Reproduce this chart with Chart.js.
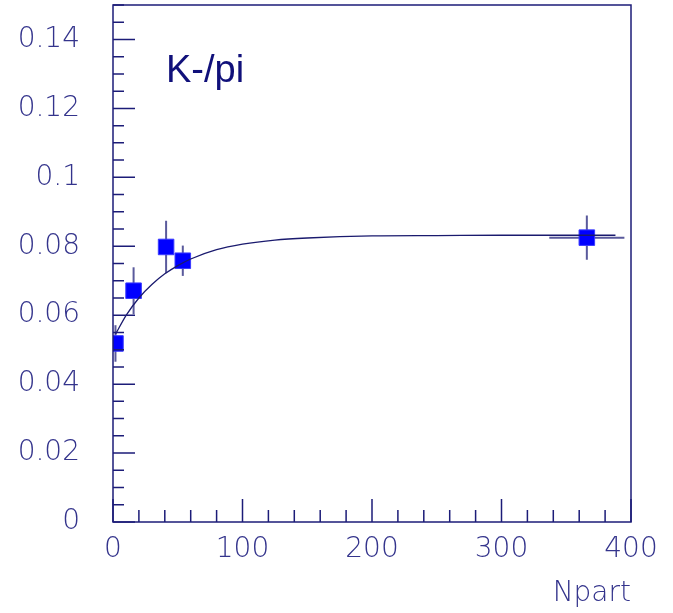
<!DOCTYPE html>
<html>
<head>
<meta charset="utf-8">
<script src="https://cdn.jsdelivr.net/npm/chart.js@4.4.1/dist/chart.umd.min.js"></script>
<style>
  html, body { margin: 0; padding: 0; background: #fff; }
  #wrap { width: 673px; height: 613px; }
</style>
</head>
<body>
<div id="wrap"><canvas id="canvas" width="673" height="613"></canvas></div>
<script>
// measured points K-/pi vs Npart
var npart = [1.9, 15.9, 41.0, 53.9, 365.9];
var ratio = [0.0518, 0.0671, 0.0798, 0.0758, 0.0825];
var ratioErr = [0.0053, 0.0068, 0.0076, 0.0044, 0.0064];
var npartErr = [0, 0, 0, 0, 29];

// fit curve
var fitX = [2, 10, 20, 30, 40, 50, 60, 80, 100, 125, 150, 200, 250, 300, 388];
var fitY = [0.0545, 0.0599, 0.0650, 0.0689, 0.0720, 0.0744, 0.0763, 0.0790, 0.0806, 0.0818, 0.0824, 0.0830, 0.0831, 0.0832, 0.0832];

var xTicks = [0, 100, 200, 300, 400];
var xLabels = ['0', '100', '200', '300', '400'];
var yTicks = [0, 0.02, 0.04, 0.06, 0.08, 0.1, 0.12, 0.14];
var yLabels = ['0', '0.02', '0.04', '0.06', '0.08', '0.1', '0.12', '0.14'];

var axisColor = '#1c1c78';
var labelColor = '#34348c';
var tickFont = { family: 'DejaVu Sans', size: 28, weight: 200 };

var errorBars = {
  id: 'errorBars',
  beforeDatasetsDraw: function(chart) {
    var ctx = chart.ctx, xs = chart.scales.x, ys = chart.scales.y;
    ctx.save();
    ctx.strokeStyle = '#5a5a9c';
    ctx.lineWidth = 2;
    for (var i = 0; i < npart.length; i++) {
      var px = xs.getPixelForValue(npart[i]);
      var py = ys.getPixelForValue(ratio[i]);
      ctx.beginPath();
      ctx.moveTo(px, ys.getPixelForValue(ratio[i] - ratioErr[i]));
      ctx.lineTo(px, ys.getPixelForValue(ratio[i] + ratioErr[i]));
      if (npartErr[i] > 0) {
        ctx.moveTo(xs.getPixelForValue(npart[i] - npartErr[i]), py);
        ctx.lineTo(xs.getPixelForValue(npart[i] + npartErr[i]), py);
      }
      ctx.stroke();
    }
    ctx.restore();
  }
};

var frame = {
  id: 'frame',
  afterDraw: function(chart) {
    var ctx = chart.ctx, a = chart.chartArea, xs = chart.scales.x, ys = chart.scales.y;
    ctx.save();
    ctx.strokeStyle = axisColor;
    ctx.lineWidth = 1.5;
    ctx.strokeRect(a.left, a.top, a.right - a.left, a.bottom - a.top);
    ctx.beginPath();
    // ticks along the bottom, every 20, long every 100
    for (var v = 0; v <= 400; v += 20) {
      var px = xs.getPixelForValue(v);
      var len = (v % 100 === 0) ? 23 : 12;
      ctx.moveTo(px, a.bottom);
      ctx.lineTo(px, a.bottom - len);
    }
    // ticks along the left, every 0.005, long every 0.02
    for (var k = 0; k <= 30; k++) {
      var py = ys.getPixelForValue(k * 0.005);
      var l = (k % 4 === 0) ? 22 : 11;
      ctx.moveTo(a.left, py);
      ctx.lineTo(a.left + l, py);
    }
    ctx.stroke();
    // label in the plot
    ctx.fillStyle = '#10107a';
    ctx.font = '38px "Liberation Sans", Arial, sans-serif';
    ctx.textBaseline = 'alphabetic';
    ctx.fillText('K-/pi', 166, 82);
    ctx.restore();
  }
};

var ctx = document.getElementById('canvas');
var myChart = new Chart(ctx, {
  type: 'scatter',
  data: {
    datasets: [
      {
        type: 'line',
        label: 'fit',
        data: fitX.map(function(x, i) { return { x: x, y: fitY[i] }; }),
        borderColor: '#1a1a6e',
        borderWidth: 1.3,
        pointRadius: 0,
        fill: false,
        cubicInterpolationMode: 'monotone'
      },
      {
        label: 'K-/pi',
        data: npart.map(function(x, i) { return { x: x, y: ratio[i] }; }),
        pointStyle: 'rect',
        pointRadius: 11,
        pointBackgroundColor: '#0000ff',
        pointBorderColor: '#3a3aff',
        pointBorderWidth: 1
      }
    ]
  },
  options: {
    responsive: false,
    animation: false,
    events: [],
    layout: { autoPadding: false, padding: { top: 5, right: 42, left: 0, bottom: 0 } },
    plugins: { legend: { display: false }, tooltip: { enabled: false } },
    scales: {
      x: {
        type: 'linear',
        min: 0, max: 400,
        afterBuildTicks: function(s) { s.ticks = xTicks.map(function(v) { return { value: v }; }); },
        afterFit: function(s) { s.height = 91; s.paddingLeft = 0; s.paddingRight = 0; },
        grid: { display: false, drawTicks: false },
        border: { display: false },
        ticks: {
          padding: 11,
          color: labelColor,
          font: tickFont,
          maxRotation: 0,
          autoSkip: false,
          callback: function(v, i) { return xLabels[i]; }
        },
        title: {
          display: true,
          text: 'Npart',
          align: 'end',
          color: labelColor,
          font: tickFont,
          padding: { top: 0, bottom: 2 }
        }
      },
      y: {
        type: 'linear',
        min: 0, max: 0.15,
        afterBuildTicks: function(s) { s.ticks = yTicks.map(function(v) { return { value: v }; }); },
        afterFit: function(s) { s.width = 113; s.paddingTop = 0; s.paddingBottom = 0; },
        grid: { display: false, drawTicks: false },
        border: { display: false },
        ticks: {
          padding: 33,
          color: labelColor,
          font: tickFont,
          autoSkip: false,
          callback: function(v, i) { return yLabels[i]; }
        }
      }
    }
  },
  plugins: [errorBars, frame]
});
</script>
</body>
</html>
